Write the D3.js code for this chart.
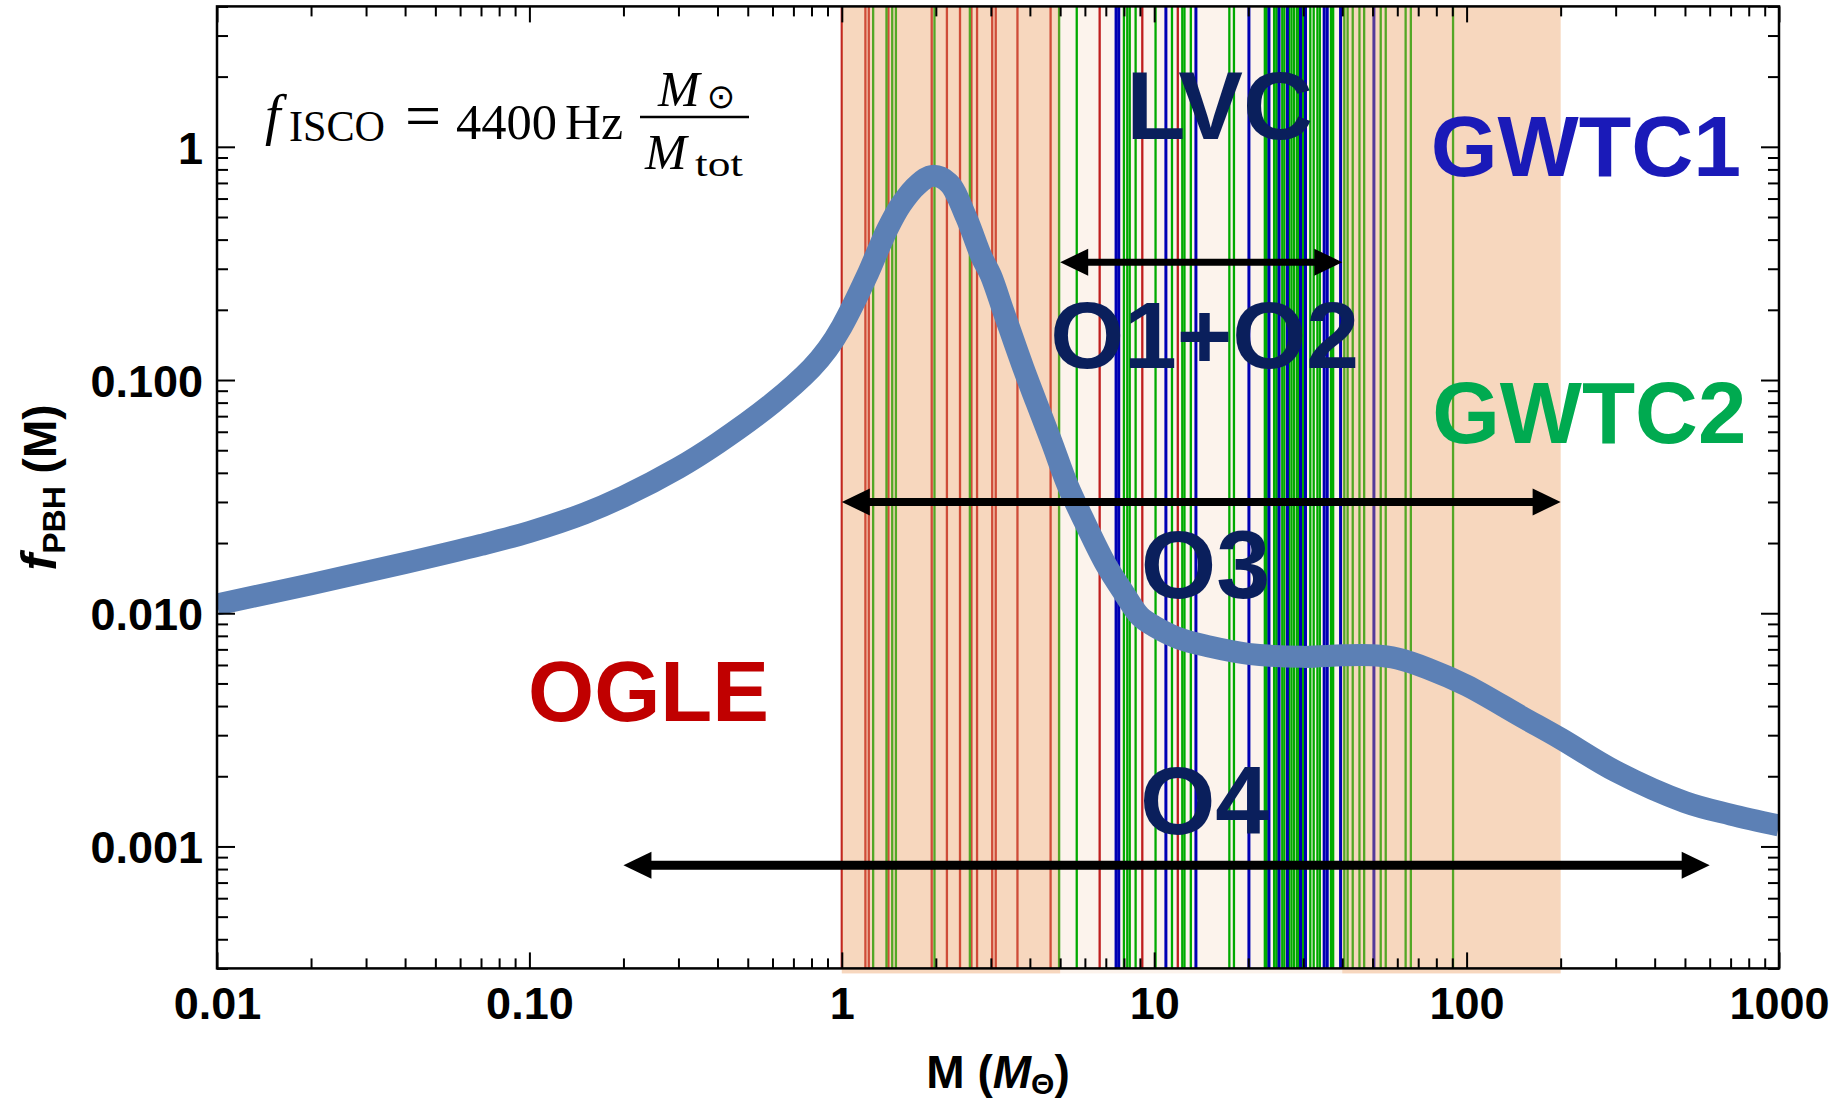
<!DOCTYPE html>
<html><head><meta charset="utf-8">
<script src="https://cdn.jsdelivr.net/npm/d3@7"></script>
<style>body{margin:0;background:#fff}svg{display:block}</style>
</head><body><svg id="c" width="1847" height="1103"></svg>
<script>
const xTickValues=[0.01,0.1,1,10,100,1000];
const xTickLabels=["0.01","0.10","1","10","100","1000"];
const yTickValues=[0.001,0.01,0.1,1];
const yTickLabels=["0.001","0.010","0.100","1"];
const curveMass=[0.01,0.02,0.04,0.07,0.1,0.15,0.2,0.3,0.4,0.6,0.8,0.9,1.0,1.2,1.3,1.4,1.55,1.75,1.95,2.2,2.5,2.8,3.0,3.3,3.8,4.2,4.7,5.3,6.0,7.0,8.0,9.0,10,12,15,20,30,40,50,60,75,100,150,200,300,500,700,1000];
const curveF=[0.0109,0.01333,0.01641,0.01963,0.02232,0.02679,0.03164,0.04202,0.05353,0.0796,0.1125,0.1358,0.1695,0.2773,0.3555,0.4441,0.567,0.6886,0.7507,0.70,0.50,0.338,0.281,0.195,0.114,0.08,0.054,0.035,0.0245,0.0162,0.0122,0.0097,0.0088,0.0078,0.0072,0.0067,0.0065,0.0066,0.0066,0.0064,0.0058,0.0049,0.0036,0.0029,0.0021,0.00155,0.00137,0.00123];
const ogleMasses=[1.0,1.19,1.22,1.41,1.94,2.17,2.39,2.60,2.71,3.03,3.11,3.65,4.66,6.69,9.16,11.9];
const gwtc2Masses=[1.26,1.39,1.45,1.49,1.98,2.57,4.96,5.65,8.0,8.2,8.35,8.72,10.1,11.4,12.3,12.5,13.1,17.4,18.0,22.6,22.9,24.2,24.6,25.0,25.7,26.1,27.0,27.5,28.0,28.6,29.0,29.9,30.2,31.6,32.4,33.3,33.9,36.8,37.4,40.6,41.6,43.2,45.4,47.0,53.1,55.1,63.8,66.3,90.5];
const gwtc1Masses=[7.55,7.7,10.9,13.6,20.1,23.3,25.1,26.7,29.4,30.5,35.0,35.8,39.5,50.5];
const lightBand=[1,200];
const orangeBands=[[1,5],[40,200]];
const runNames=["O1+O2","O3","O4"];
const runFrom=[5,1,0.2];
const runTo=[40,200,600];
const runF=[0.32,0.03,0.00083];
const runWidth=[7,8,9];
const labelTexts=["LVC","O1+O2","O3","O4","OGLE","GWTC1","GWTC2"];
const labelM=[16.2,14.5,14.6,14.5,0.2405,241,247];
const labelF=[1.08,0.1126,0.01162,0.00113,0.00345,0.7516,0.0537];
const labelSize=[97,95,97,97,85,86,87];
const labelColor=["#0a1f5c","#0a1f5c","#0a1f5c","#0a1f5c","#c00000","#1a1ab8","#00aa50"];

const L=217,R=1779,T=6.4,B=968.4;
const x=d3.scaleLog().domain([0.01,1000]).range([L,R]);
const y=d3.scaleLog().domain([0.0003,4]).range([B,T]);
const svg=d3.select("#c");
const SANS="'Liberation Sans',Arial,Helvetica,sans-serif";
const SERIF="'Liberation Serif','Times New Roman',serif";
svg.append("defs").append("clipPath").attr("id","clip").append("rect")
  .attr("x",L).attr("y",T).attr("width",R-L).attr("height",B-T);

// bands + event lines
svg.append("rect").attr("x",x(lightBand[0])).attr("width",x(lightBand[1])-x(lightBand[0]))
  .attr("y",T).attr("height",B-T+5).attr("fill","#fcf3ec");
const lines=svg.append("g").attr("clip-path","url(#clip)");
function drawLines(arr,color,w){
  lines.append("g").selectAll("line").data(arr).enter().append("line")
    .attr("x1",d=>x(d)).attr("x2",d=>x(d)).attr("y1",T).attr("y2",B)
    .attr("stroke",color).attr("stroke-width",w);
}
drawLines(ogleMasses,"#bf1e1e",2.3);
drawLines(gwtc2Masses,"#00aa00",2.3);
drawLines(gwtc1Masses,"#0000b4",3);
svg.append("g").selectAll("rect").data(orangeBands).enter().append("rect")
  .attr("x",d=>x(d[0])).attr("width",d=>x(d[1])-x(d[0]))
  .attr("y",T).attr("height",B-T+5).attr("fill","rgb(238,163,105)").attr("fill-opacity",0.35);

// curve
const lineGen=d3.line().x(d=>x(d[0])).y(d=>y(d[1])).curve(d3.curveCatmullRom.alpha(0.5));
svg.append("g").attr("clip-path","url(#clip)").append("path")
  .datum(d3.zip(curveMass,curveF)).attr("d",lineGen)
  .attr("fill","none").attr("stroke","#5c80b5").attr("stroke-width",22).attr("stroke-linejoin","round");

// arrows
const HL=28,HH=13.5;
const arrows=svg.append("g");
runNames.forEach((n,i)=>{
  const x0=x(runFrom[i]),x1=x(runTo[i]),yy=y(runF[i]);
  arrows.append("line").attr("x1",x0+HL-2).attr("x2",x1-HL+2).attr("y1",yy).attr("y2",yy)
    .attr("stroke","#000").attr("stroke-width",runWidth[i]);
  arrows.append("path").attr("d",`M${x0},${yy}L${x0+HL},${yy-HH}L${x0+HL},${yy+HH}Z`).attr("fill","#000");
  arrows.append("path").attr("d",`M${x1},${yy}L${x1-HL},${yy-HH}L${x1-HL},${yy+HH}Z`).attr("fill","#000");
});

// labels
svg.append("g").selectAll("text").data(labelTexts).enter().append("text")
  .attr("x",(d,i)=>x(labelM[i])).attr("y",(d,i)=>y(labelF[i]))
  .attr("text-anchor","middle").attr("font-family",SANS).attr("font-weight","bold")
  .attr("font-size",(d,i)=>labelSize[i]).attr("fill",(d,i)=>labelColor[i]).text(d=>d);

// formula
const fg=svg.append("g").attr("transform",`translate(${x(0.01)},0)`).attr("font-family",SERIF).attr("fill","#000");
fg.append("text").attr("x",48).attr("y",134).attr("font-size",56).attr("font-style","italic").text("f");
fg.append("text").attr("x",72).attr("y",141).attr("font-size",44).attr("textLength",96).attr("lengthAdjust","spacingAndGlyphs").text("ISCO");
fg.append("text").attr("x",206).attr("y",137).attr("font-size",64).attr("text-anchor","middle").text("=");
fg.append("text").attr("x",239).attr("y",139).attr("font-size",50).attr("textLength",101).attr("lengthAdjust","spacingAndGlyphs").text("4400");
fg.append("text").attr("x",348).attr("y",139).attr("font-size",50).attr("textLength",58).attr("lengthAdjust","spacingAndGlyphs").text("Hz");
fg.append("line").attr("x1",423).attr("x2",532).attr("y1",117).attr("y2",117).attr("stroke","#000").attr("stroke-width",2.5);
fg.append("text").attr("x",441).attr("y",106).attr("font-size",50).attr("font-style","italic").text("M");
fg.append("text").attr("x",504).attr("y",96).attr("font-size",34).attr("text-anchor","middle").attr("dominant-baseline","central").attr("font-family","'DejaVu Sans',sans-serif").text("⊙");
fg.append("text").attr("x",428).attr("y",169).attr("font-size",50).attr("font-style","italic").text("M");
fg.append("text").attr("x",478).attr("y",176).attr("font-size",36).attr("textLength",48).attr("lengthAdjust","spacingAndGlyphs").text("tot");

// axes
const minorX=[];xTickValues.slice(0,-1).forEach(d=>{for(let k=2;k<10;k++)minorX.push(d*k);});
const minorY=[];[0.0001,0.001,0.01,0.1,1].forEach(d=>{for(let k=2;k<10;k++){const v=d*k;if(v>=0.0003&&v<=4)minorY.push(v);}});
function styleAxis(g){g.select(".domain").remove();g.selectAll("line").attr("stroke","#000").attr("stroke-width",2);}
const ax=svg.append("g");
ax.append("g").attr("transform",`translate(0,${B})`).call(d3.axisBottom(x).tickValues(minorX).tickSize(-10).tickFormat("")).call(styleAxis);
ax.append("g").attr("transform",`translate(0,${T})`).call(d3.axisTop(x).tickValues(minorX).tickSize(-10).tickFormat("")).call(styleAxis);
ax.append("g").attr("transform",`translate(0,${T})`).call(d3.axisTop(x).tickValues(xTickValues).tickSize(-16).tickFormat("")).call(styleAxis);
const gb=ax.append("g").attr("transform",`translate(0,${B})`).call(d3.axisBottom(x).tickValues(xTickValues).tickSize(-16).tickFormat((d,i)=>xTickLabels[i])).call(styleAxis);
gb.selectAll("text").attr("y",51).attr("dy",0).attr("font-family",SANS).attr("font-weight","bold").attr("font-size",45).attr("fill","#000");
ax.append("g").attr("transform",`translate(${L},0)`).call(d3.axisLeft(y).tickValues(minorY).tickSize(-11).tickFormat("")).call(styleAxis);
ax.append("g").attr("transform",`translate(${R},0)`).call(d3.axisRight(y).tickValues(minorY).tickSize(-11).tickFormat("")).call(styleAxis);
ax.append("g").attr("transform",`translate(${R},0)`).call(d3.axisRight(y).tickValues(yTickValues).tickSize(-18).tickFormat("")).call(styleAxis);
const gl=ax.append("g").attr("transform",`translate(${L},0)`).call(d3.axisLeft(y).tickValues(yTickValues).tickSize(-18).tickFormat((d,i)=>yTickLabels[i])).call(styleAxis);
gl.selectAll("text").attr("x",-14).attr("dy","0.36em").attr("text-anchor","end").attr("font-family",SANS).attr("font-weight","bold").attr("font-size",45).attr("fill","#000");
svg.append("rect").attr("x",L).attr("y",T).attr("width",R-L).attr("height",B-T).attr("fill","none").attr("stroke","#000").attr("stroke-width",2.5);

// axis titles
const xt=svg.append("text").attr("x",(L+R)/2).attr("y",1088).attr("text-anchor","middle")
  .attr("font-family",SANS).attr("font-weight","bold").attr("font-size",46).attr("fill","#000");
xt.append("tspan").text("M (");
xt.append("tspan").attr("font-style","italic").text("M");
xt.append("tspan").attr("font-size",30).attr("dy",6).text("Θ");
xt.append("tspan").attr("dy",-6).text(")");
const yt=svg.append("text").attr("transform",`translate(56,${(T+B)/2}) rotate(-90)`).attr("text-anchor","middle")
  .attr("font-family",SANS).attr("font-weight","bold").attr("font-size",46).attr("fill","#000");
yt.append("tspan").attr("font-style","italic").attr("font-size",50).text("f");
yt.append("tspan").attr("font-size",32).attr("dy",9).text("PBH");
yt.append("tspan").attr("dy",-9).text("  (M)");
</script></body></html>
